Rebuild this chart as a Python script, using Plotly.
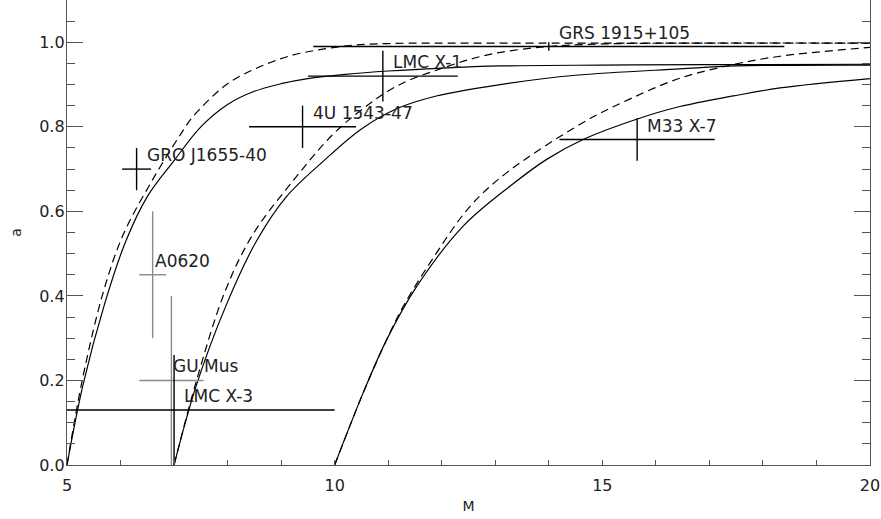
import plotly.graph_objects as go

# model curves a(M): solid and dashed pairs
solid_m = [
    [5.0, 5.3, 5.7, 6.1, 6.5, 7.0, 7.5, 8.0, 8.5, 9.0, 9.5, 10.2, 11.0, 12.0, 13.1, 15.0, 17.0, 20.0],
    [7.0, 7.42, 7.98, 8.54, 9.1, 9.8, 10.5, 11.2, 11.9, 13.09, 14.5, 16.45, 17.5, 20.0],
    [10.0, 10.53, 10.97, 11.53, 12.4, 13.28, 13.96, 14.64, 15.64, 16.45, 17.45, 18.32, 20.0],
]
solid_a = [
    [0.0, 0.19, 0.38, 0.53, 0.635, 0.72, 0.80, 0.853, 0.884, 0.902, 0.914, 0.924, 0.932, 0.939, 0.944, 0.946, 0.947, 0.948],
    [0.0, 0.19, 0.38, 0.53, 0.635, 0.72, 0.795, 0.845, 0.873, 0.90, 0.922, 0.937, 0.944, 0.946],
    [0.0, 0.17, 0.296, 0.422, 0.565, 0.66, 0.723, 0.77, 0.818, 0.848, 0.873, 0.892, 0.914],
]
dashed_m = [
    [5.0, 5.3, 5.68, 6.05, 6.6, 7.11, 7.36, 7.98, 8.6, 9.23, 9.85, 10.35, 11.0, 13.0, 20.0],
    [7.0, 7.42, 7.95, 8.47, 9.24, 9.95, 10.5, 11.17, 12.04, 12.92, 14.0, 15.0, 16.5, 20.0],
    [10.0, 10.53, 10.97, 11.28, 11.78, 12.53, 13.21, 14.64, 15.5, 16.45, 17.4, 18.32, 20.0],
]
dashed_a = [
    [0.0, 0.21, 0.41, 0.545, 0.675, 0.78, 0.825, 0.90, 0.942, 0.97, 0.985, 0.993, 0.997, 0.998, 0.998],
    [0.0, 0.20, 0.41, 0.545, 0.675, 0.78, 0.84, 0.897, 0.94, 0.972, 0.99, 0.996, 0.998, 0.998],
    [0.0, 0.17, 0.296, 0.375, 0.478, 0.612, 0.691, 0.81, 0.865, 0.915, 0.946, 0.967, 0.988],
]

# measured sources
names = ["GRO J1655-40", "A0620", "GU Mus", "LMC X-3", "4U 1543-47", "LMC X-1", "GRS 1915+105", "M33 X-7"]
src_m = [6.3, 6.6, 6.95, 7.0, 9.4, 10.9, 14.0, 15.65]
src_m_err = [0.27, 0.25, 0.6, 3.0, 1.0, 1.4, 4.4, 1.45]
src_a = [0.70, 0.45, 0.20, 0.13, 0.80, 0.92, 0.99, 0.77]
src_a_err = [0.05, 0.15, 0.20, 0.13, 0.05, 0.06, 0.01, 0.05]
src_gray = [False, True, True, False, False, False, False, False]

fig = go.Figure()

for m, a in zip(solid_m, solid_a):
    fig.add_trace(go.Scatter(x=m, y=a, mode="lines", line_shape="spline",
                             line=dict(color="black", width=1.2), showlegend=False))
for m, a in zip(dashed_m, dashed_a):
    fig.add_trace(go.Scatter(x=m, y=a, mode="lines", line_shape="spline",
                             line=dict(color="black", width=1.2, dash="8px,5px"),
                             showlegend=False))

for i in range(len(names)):
    col = "#8a8a8a" if src_gray[i] else "black"
    fig.add_trace(go.Scatter(
        x=[src_m[i]], y=[src_a[i]], mode="markers",
        marker=dict(size=2, color=col, opacity=0),
        error_x=dict(type="data", array=[src_m_err[i]], width=0, thickness=1.4, color=col),
        error_y=dict(type="data", array=[src_a_err[i]], width=0, thickness=1.4, color=col),
        showlegend=False))
    fig.add_annotation(x=src_m[i], y=src_a[i], text=names[i], showarrow=False,
                       xanchor="left", yanchor="middle",
                       xshift=0 if src_gray[i] else 8, yshift=14,
                       font=dict(family="DejaVu Sans", size=17, color="#222"))

fig.update_layout(
    width=881, height=519,
    margin=dict(l=67, r=11, t=0, b=54),
    plot_bgcolor="white", paper_bgcolor="white",
    font=dict(family="DejaVu Sans", size=16, color="#222"),
)
fig.update_xaxes(
    range=[5, 20], tickvals=[5, 10, 15, 20], ticks="inside", ticklen=5,
    tickcolor="#555", showline=True, linecolor="#555", linewidth=1.3,
    showgrid=False, zeroline=False, ticklabelstandoff=6, automargin=False,
    minor=dict(dtick=1, ticks="inside", ticklen=5, tickcolor="#555"),
    title=dict(text="M", font=dict(size=14), standoff=6),
)
fig.update_yaxes(
    range=[0, 1.1], tickvals=[0, 0.2, 0.4, 0.6, 0.8, 1.0], tickformat=".1f",
    ticks="inside", ticklen=16, tickcolor="#555", showline=True, linecolor="#555",
    linewidth=1.3, mirror="allticks", showgrid=False, zeroline=False,
    ticklabelstandoff=-2, automargin=False,
    minor=dict(dtick=0.05, ticks="inside", ticklen=8, tickcolor="#555"),
    title=dict(text="a", font=dict(size=14), standoff=14),
)

# page body has a default 8px margin; drop it so the figure sits at the corner
fig.write_html("out.html", config={"displayModeBar": False},
               post_script="document.body.style.margin='0';")
